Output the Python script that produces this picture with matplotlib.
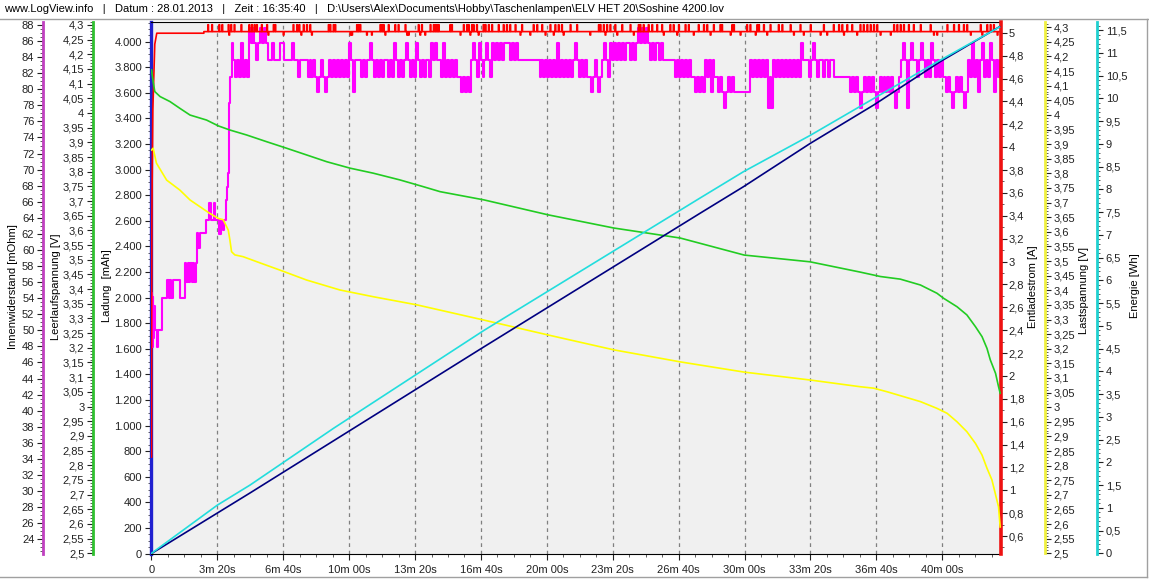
import numpy as np
import matplotlib
matplotlib.use("Agg")
import matplotlib.pyplot as plt
from matplotlib.ticker import MultipleLocator, FuncFormatter
from matplotlib.lines import Line2D

plt.rcParams['font.family'] = ['Liberation Sans', 'DejaVu Sans']
plt.rcParams['font.size'] = 8

# ---------------- header ----------------
kopfzeile = ("www.LogView.info   |   Datum : 28.01.2013   |   Zeit : 16:35:40   |   "
             "D:\\Users\\Alex\\Documents\\Hobby\\Taschenlampen\\ELV HET 20\\Soshine 4200.lov")

# ---------------- data (time in seconds) ----------------
# Ladung [mAh] (navy)
ladung_t = [0, 299, 1009, 1665, 1797, 2000, 2192, 2394, 2574]
ladung_mah = [0, 473, 1615, 2659, 2867, 3206, 3505, 3844, 4117]

# Energie [Wh] (cyan)
energie_t = [0, 200, 299, 553, 1009, 1665, 1797, 2000, 2202, 2394, 2574]
energie_wh = [0, 1.06, 1.50, 2.75, 4.90, 7.81, 8.39, 9.19, 10.04, 10.84, 11.57]

# Leerlaufspannung [V] (green)
leerlauf_t = [0, 5, 10, 26, 56, 86, 117, 167, 203, 238, 289, 350, 410, 471, 532, 603,
              673, 754, 825, 876, 1009, 1204, 1404, 1605, 1799, 1999, 2151, 2212, 2273,
              2334, 2384, 2404, 2445, 2475, 2501, 2521, 2536, 2546, 2562, 2571, 2576]
leerlauf_v = [4.147, 4.107, 4.073, 4.056, 4.039, 4.016, 3.993, 3.976, 3.956, 3.942, 3.925,
              3.902, 3.880, 3.857, 3.834, 3.812, 3.795, 3.772, 3.749, 3.732, 3.704, 3.653,
              3.608, 3.574, 3.516, 3.493, 3.458, 3.443, 3.434, 3.414, 3.386, 3.369, 3.340,
              3.312, 3.272, 3.238, 3.198, 3.159, 3.113, 3.068, 3.045]

# Lastspannung [V] (yellow)
last_t = [0, 5, 15, 46, 86, 117, 177, 203, 218, 233, 238, 243, 253, 278, 319, 390, 471,
          572, 673, 806, 1009, 1204, 1404, 1605, 1799, 1999, 2151, 2192, 2232, 2283, 2334,
          2384, 2415, 2445, 2475, 2501, 2521, 2536, 2551, 2561, 2571, 2576]
last_v = [3.88, 3.886, 3.835, 3.777, 3.743, 3.709, 3.663, 3.646, 3.641, 3.606, 3.572,
          3.532, 3.521, 3.515, 3.498, 3.469, 3.435, 3.401, 3.378, 3.350, 3.298, 3.247,
          3.196, 3.155, 3.120, 3.093, 3.070, 3.065, 3.053, 3.036, 3.019, 2.996, 2.979,
          2.950, 2.916, 2.876, 2.836, 2.791, 2.751, 2.705, 2.659, 2.59]

# Entladestrom [A] (red)
strom_anlauf_t = [0, 1, 4, 10, 16, 159]
strom_anlauf_a = [1.29, 3.36, 4.32, 4.90, 4.996, 4.996]
strom_basis = 5.01
strom_ende_t = 2576
strom_hoch_a = 5.07
strom_tief_a = 4.98
strom_hoch_t = [171, 183, 205, 214, 233, 241, 251, 272, 296, 304, 312, 319, 334, 350, 370,
                375, 430, 441, 448, 461, 471, 481, 537, 542, 552, 557, 623, 628, 633, 694,
                699, 704, 719, 739, 749, 770, 810, 820, 846, 856, 862, 866, 871, 906, 911,
                947, 957, 962, 972, 977, 987, 1007, 1013, 1023, 1033, 1053, 1068, 1078, 1088,
                1104, 1124, 1159, 1170, 1185, 1210, 1225, 1235, 1245, 1271, 1291, 1357, 1362,
                1372, 1382, 1392, 1407, 1428, 1453, 1478, 1483, 1493, 1508, 1519, 1534, 1549,
                1574, 1584, 1600, 1620, 1630, 1660, 1676, 1686, 1706, 1726, 1731, 1762, 1767,
                1807, 1817, 1838, 1843, 1858, 1878, 1903, 1914, 1939, 1969, 2000, 2040, 2070,
                2086, 2096, 2111, 2126, 2151, 2161, 2172, 2182, 2192, 2202, 2253, 2263, 2273,
                2283, 2298, 2313, 2334, 2364, 2415, 2435, 2450, 2465, 2475, 2516, 2536, 2546,
                2556]
strom_tief_t = [235, 354, 400, 454, 486, 603, 608, 653, 668, 709, 775, 780, 815, 830, 937,
                967, 992, 1119, 1149, 1195, 1220, 1250, 1331, 1377, 1413, 1463, 1554, 1595,
                1645, 1696, 1757, 1787, 1833, 1868, 1949, 1979, 2030, 2050, 2101, 2141, 2212,
                2243, 2374, 2384, 2486, 2521, 2567]

# Innenwiderstand [mOhm] (magenta) - start-up phase
iw_anlauf_t = [0, 2, 4, 6, 8, 10, 16, 18, 20, 30, 32, 46, 48, 52, 56, 60, 64, 70, 86, 100,
               102, 106, 110, 114, 118, 122, 126, 130, 134, 138, 142, 146, 166, 172, 176,
               180, 186, 190, 194, 200, 204, 210, 216, 220, 226, 229, 231, 235, 239, 243]
iw_anlauf = [54.6, 47.9, 54.2, 49.0, 53.0, 50.0, 50.0, 47.9, 50.0, 50.0, 54.0, 54.0, 56.3,
             54.0, 56.3, 54.0, 56.3, 56.3, 54.0, 54.0, 58.4, 56.0, 58.4, 56.0, 58.4, 56.0,
             58.4, 56.0, 58.4, 62.1, 60.3, 62.1, 63.7, 63.7, 65.9, 63.7, 63.7, 65.9, 63.7,
             63.7, 62.0, 63.7, 62.5, 63.7, 66.2, 67.8, 69.6, 78.3, 81.5, 85.8]
# Innenwiderstand - logged samples from 247 s to 2574 s (equal spacing)
iw_log_start, iw_log_ende = 247, 2574
iw_log = [
    83.6, 81.5, 83.6, 81.5, 85.8, 81.5, 83.6, 81.5,
    87.6, 85.8, 87.6,
    85.8, 83.6, 85.8,
    87.6, 85.8, 87.6, 85.8,
    83.6, 83.6, 85.8, 83.6, 83.6, 83.6, 85.8, 85.8, 83.6, 83.6, 83.6, 83.6,
    85.8, 83.6, 83.6, 81.5, 83.6, 83.6, 83.6,
    83.6, 81.5, 83.6, 81.5, 83.6, 81.5, 79.7, 81.5, 83.6, 81.5, 79.7, 81.5, 83.6, 81.5,
    83.6, 81.5, 83.6, 81.5, 83.6, 81.5, 83.6, 81.5,
    85.8, 83.6, 79.7, 83.6,
    83.6, 83.6, 81.5, 83.6, 81.5, 83.6, 83.6, 85.8, 83.6, 81.5, 83.6, 81.5, 83.6, 81.5, 83.6,
    83.6, 81.5, 83.6, 81.5, 85.8, 83.6, 81.5, 83.6, 81.5, 83.6, 85.8, 83.6, 81.5, 83.6,
    81.5, 85.8, 83.6, 81.5, 83.6, 81.5, 83.6, 83.6, 81.5, 85.8, 83.6, 85.8, 83.6,
    83.6, 81.5, 85.8, 81.5, 83.6, 81.5, 83.6, 81.5, 83.6, 81.5,
    81.5, 79.7, 81.5, 79.7, 81.5, 79.7,
    83.6, 85.8, 83.6, 81.5, 85.8, 83.6, 81.5, 83.6, 85.8, 83.6, 81.5,
    85.8, 83.6, 85.8, 83.6, 85.8, 83.6, 85.8, 85.8, 85.8, 83.6, 85.8, 83.6, 85.8, 83.6, 83.6,
    83.6, 83.6, 83.6, 83.6, 83.6, 83.6, 83.6, 83.6,
    83.6, 81.5, 83.6, 81.5, 83.6, 81.5,
    83.6, 81.5, 83.6, 81.5, 85.8, 81.5, 83.6, 81.5, 83.6, 81.5, 83.6, 81.5, 83.6, 85.8,
    83.6, 81.5, 83.6, 81.5, 83.6, 81.5,
    81.5, 79.7, 81.5, 83.6, 81.5, 79.7, 81.5, 83.6,
    85.8, 83.6, 81.5, 85.8, 83.6,
    85.8, 83.6, 85.8, 83.6, 85.8, 83.6, 85.8, 85.8, 83.6, 85.8, 83.6, 85.8,
    87.6, 85.8, 87.6, 85.8, 87.6,
    85.8, 83.6, 85.8, 83.6, 85.8, 85.8, 83.6, 85.8,
    83.6, 83.6, 83.6, 83.6, 83.6,
    83.6, 81.5, 83.6, 81.5, 83.6, 81.5, 83.6, 81.5, 83.6, 81.5,
    81.5, 79.7, 81.5, 79.7, 81.5, 79.7, 83.6, 81.5, 83.6, 79.7, 83.6, 81.5,
    81.5, 79.7, 81.5, 79.7, 77.7, 79.7, 81.5, 79.7, 81.5, 79.7,
    79.7, 79.7, 79.7, 79.7, 79.7, 79.7, 79.7,
    83.6, 81.5, 83.6, 81.5, 83.6, 81.5, 83.6, 81.5, 83.6,
    77.7, 81.5, 77.7,
    83.6, 81.5, 83.6, 81.5, 83.6, 81.5, 83.6, 81.5, 83.6, 81.5, 83.6, 81.5, 83.6, 81.5,
    85.8, 83.6,
    83.6, 83.6, 81.5, 83.6, 85.8, 83.6, 81.5, 83.6, 83.6, 81.5, 83.6, 83.6, 81.5, 83.6, 83.6,
    81.5, 81.5, 81.5, 81.5, 81.5, 81.5, 81.5,
    81.5, 79.7, 81.5, 79.7, 81.5, 79.7, 77.7, 79.7, 81.5, 79.7, 81.5, 79.7, 81.5, 79.7,
    77.7, 79.7, 81.5, 79.7, 81.5, 79.7, 81.5, 79.7, 81.5, 79.7, 77.7, 79.7, 81.5,
    83.6, 85.8, 83.6, 77.7, 83.6, 85.8, 83.6,
    83.6, 81.5, 83.6, 85.8, 83.6, 81.5, 83.6, 81.5, 85.8, 83.6, 81.5, 83.6, 81.5, 83.6, 81.5,
    81.5, 79.7, 81.5, 79.7, 77.7, 79.7, 81.5, 79.7, 81.5, 79.7, 77.7, 79.7,
    83.6, 81.5, 85.8, 81.5, 83.6, 79.7, 83.6, 85.8, 81.5, 83.6, 81.5, 85.8, 83.6, 79.7,
    83.6, 81.5, 83.6,
]

# ---------------- build derived series ----------------
iw_t = list(iw_anlauf_t) + list(np.linspace(iw_log_start, iw_log_ende, len(iw_log)))
iw_v = list(iw_anlauf) + list(iw_log)

events = sorted([(t, strom_hoch_a) for t in strom_hoch_t] + [(t, strom_tief_a) for t in strom_tief_t])
st_t = list(strom_anlauf_t) + [strom_anlauf_t[-1]]
st_a = list(strom_anlauf_a) + [strom_basis]
for t, v in events:
    st_t += [t, t, t + 2, t + 2]
    st_a += [strom_basis, v, v, strom_basis]
st_t.append(strom_ende_t)
st_a.append(strom_basis)

# ---------------- figure layout ----------------
W, H = 1149, 579
fig = plt.figure(figsize=(W / 100, H / 100), dpi=100)
fig.patch.set_facecolor('white')

px_l, px_r, px_t, px_b = 150.5, 1000.5, 22.0, 553.5
ax = fig.add_axes([px_l / W, 1 - px_b / H, (px_r - px_l) / W, (px_b - px_t) / H])
ax.set_facecolor('#f0f0f0')
width_px = px_r - px_l

def de_fmt(v, pos):
    s = f"{v:.2f}".rstrip('0').rstrip('.')
    if s == '-0':
        s = '0'
    return s.replace('.', ',')

def mah_fmt(v, pos):
    return f"{int(round(v)):,}".replace(',', '.')

def zeit_fmt(v, pos):
    s = int(round(v))
    if s == 0:
        return '0'
    return f"{s // 60}m {s % 60:02d}s"

tick_kw = dict(labelsize=8, colors='#222222', length=4, width=0.8, pad=2)
minor_kw = dict(length=2, width=0.6, colors='#444444')

# main axis: time + Ladung
ax.set_xlim(-3, 2577)
ax.set_ylim(0, 4154)
ax.xaxis.set_major_locator(MultipleLocator(200))
ax.xaxis.set_minor_locator(MultipleLocator(50))
ax.xaxis.set_major_formatter(FuncFormatter(zeit_fmt))
ax.yaxis.set_major_locator(MultipleLocator(200))
ax.yaxis.set_minor_locator(MultipleLocator(50))
ax.yaxis.set_major_formatter(FuncFormatter(mah_fmt))
ax.tick_params(axis='both', which='major', **tick_kw)
ax.tick_params(axis='x', which='major', pad=4)
ax.tick_params(axis='both', which='minor', **minor_kw)
ax.grid(axis='x', which='major', color='#808080', linestyle=(0, (3, 3)), linewidth=0.9)
ax.spines['left'].set_color('#2020d0')
ax.spines['left'].set_linewidth(2.4)
ax.spines['right'].set_visible(False)
ax.spines['top'].set_color('black')
ax.spines['bottom'].set_color('black')


def twin(side, pos, color, ylim, major, minor, fmt, lw=2.0):
    a = ax.twinx()
    a.patch.set_visible(False)
    for s in a.spines.values():
        s.set_visible(False)
    a.set_ylim(*ylim)
    if side is None:
        a.set_yticks([])
        return a
    sp = a.spines[side]
    sp.set_visible(True)
    sp.set_position(('axes', pos))
    sp.set_color(color)
    sp.set_linewidth(lw)
    a.yaxis.set_ticks_position(side)
    a.yaxis.set_label_position(side)
    a.yaxis.set_major_locator(MultipleLocator(major))
    a.yaxis.set_minor_locator(MultipleLocator(minor))
    a.yaxis.set_major_formatter(FuncFormatter(fmt))
    a.tick_params(axis='y', which='major', **tick_kw)
    a.tick_params(axis='y', which='minor', **minor_kw)
    return a

ax_iw = twin('left', (42.7 - px_l) / width_px, '#c040c0', (22.23, 88.37), 2, 0.5, de_fmt)
ax_i = twin('right', 1.0, '#ee1111', (0.447, 5.094), 0.2, 0.1, de_fmt, lw=2.6)
ax_ll = twin('left', (92.7 - px_l) / width_px, '#30c030', (2.4993, 4.310), 0.05, 0.01, de_fmt)
ax_ls = twin('right', (1045 - px_l) / width_px, '#f0f040', (2.4993, 4.318), 0.05, 0.01, de_fmt)
ax_q = twin(None, 0, None, (0, 4154), None, None, None)
ax_e = twin('right', (1097.3 - px_l) / width_px, '#20d0d0', (-0.004, 11.68), 0.5, 0.1, de_fmt)

ax_iw.plot(iw_t, iw_v, color='#ff00ff', linewidth=1.5, drawstyle='steps-post')
ax_i.plot(st_t, st_a, color='#ff0000', linewidth=1.2)
ax_ll.plot(leerlauf_t, leerlauf_v, color='#22cc22', linewidth=1.2)
ax_ls.plot(last_t, last_v, color='#ffff00', linewidth=1.2)
ax_q.plot(ladung_t, ladung_mah, color='#000080', linewidth=1.2)
ax_e.plot(energie_t, energie_wh, color='#22dddd', linewidth=1.2)

# axis titles
def vlabel(x_px, y_px, text):
    fig.text(x_px / W, 1 - y_px / H, text, rotation=90, ha='center', va='center', fontsize=8)

vlabel(13.5, 287, 'Innenwiderstand [mOhm]')
vlabel(56, 287, 'Leerlaufspannung [V]')
vlabel(106.5, 286, 'Ladung  [mAh]')
vlabel(1032.5, 287, 'Entladestrom [A]')
vlabel(1084, 290, 'Lastspannung [V]')
vlabel(1135.5, 286, 'Energie [Wh]')

# header and frame
fig.text(4 / W, 1 - 9 / H, kopfzeile, ha='left', va='center', fontsize=8)
fig.add_artist(Line2D([0, 1], [1 - 19 / H, 1 - 19 / H], color='#a0a0a0', linewidth=1))
fig.add_artist(Line2D([1146.5 / W, 1146.5 / W], [1 - 576.5 / H, 1 - 19 / H], color='#a0a0a0', linewidth=1))
fig.add_artist(Line2D([0, 1146.5 / W], [1 - 576.5 / H, 1 - 576.5 / H], color='#a0a0a0', linewidth=1))

fig.savefig('out.png', dpi=100)
